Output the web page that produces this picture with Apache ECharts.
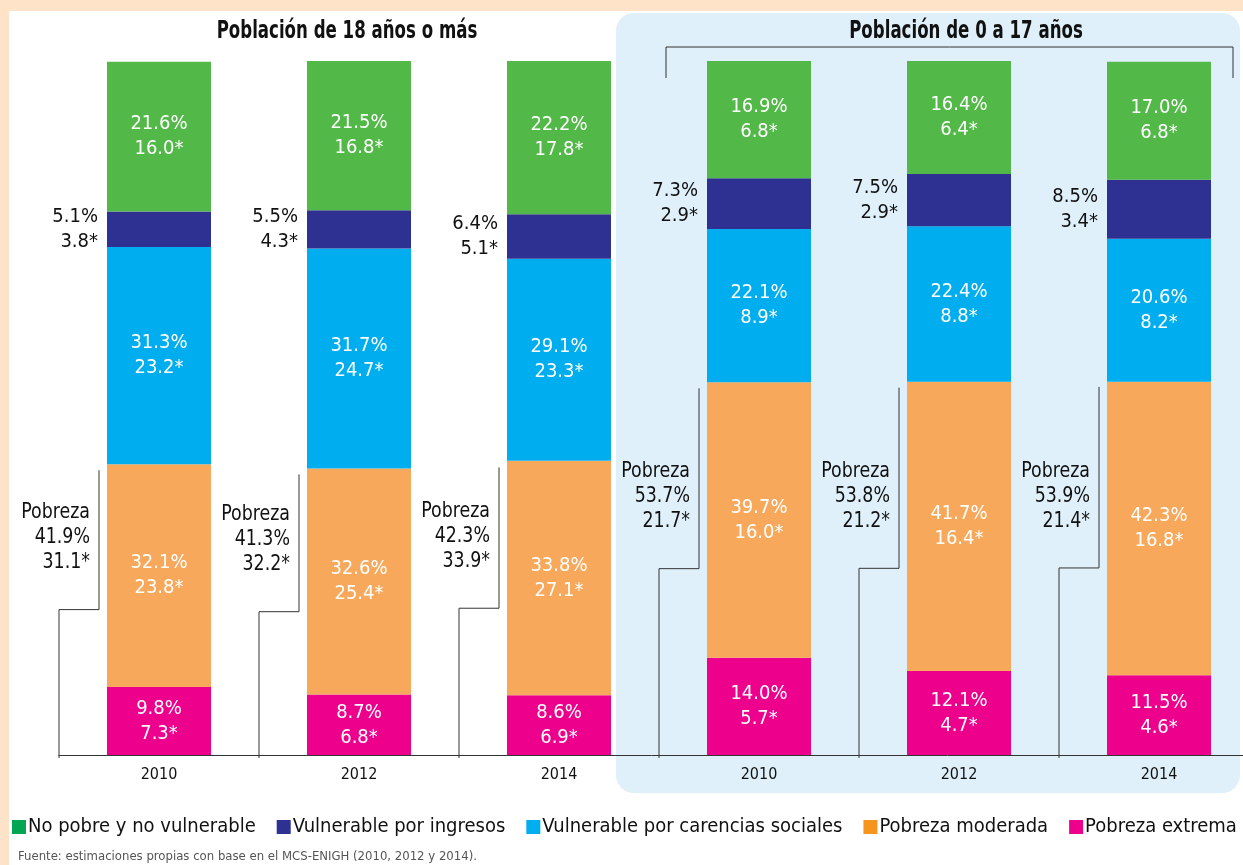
<!DOCTYPE html>
<html>
<head>
<meta charset="utf-8">
<script src="https://cdn.jsdelivr.net/npm/echarts@6/dist/echarts.min.js"></script>
<style>
  html, body { margin: 0; padding: 0; }
  #chart { width: 1243px; height: 865px; }
</style>
</head>
<body>
<div id="chart"></div>
<script>
var FONT = "'DejaVu Sans Condensed', 'Liberation Sans', sans-serif";

var years = ['2010', '2012', '2014', '2010', '2012', '2014'];

// porcentaje de poblacion
var noPobre = [21.6, 21.5, 22.2, 16.9, 16.4, 17.0];
var vulIngresos = [5.1, 5.5, 6.4, 7.3, 7.5, 8.5];
var vulCarencias = [31.3, 31.7, 29.1, 22.1, 22.4, 20.6];
var pobModerada = [32.1, 32.6, 33.8, 39.7, 41.7, 42.3];
var pobExtrema = [9.8, 8.7, 8.6, 14.0, 12.1, 11.5];
var pobreza = [41.9, 41.3, 42.3, 53.7, 53.8, 53.9];

// millones de personas (*)
var noPobreAbs = [16.0, 16.8, 17.8, 6.8, 6.4, 6.8];
var vulIngresosAbs = [3.8, 4.3, 5.1, 2.9, 2.9, 3.4];
var vulCarenciasAbs = [23.2, 24.7, 23.3, 8.9, 8.8, 8.2];
var pobModeradaAbs = [23.8, 25.4, 27.1, 16.0, 16.4, 16.8];
var pobExtremaAbs = [7.3, 6.8, 6.9, 5.7, 4.7, 4.6];
var pobrezaAbs = [31.1, 32.2, 33.9, 21.7, 21.2, 21.4];

var chart = echarts.init(document.getElementById('chart'));

function fmt(pct, abs) {
    return function (p) {
        return pct[p.dataIndex].toFixed(1) + '%\n' + abs[p.dataIndex].toFixed(1) + '*';
    };
}

function barSeries(name, color, pct, abs, outside) {
    return {
        name: name,
        type: 'bar',
        stack: 'total',
        barWidth: 104,
        data: pct,
        itemStyle: { color: color },
        label: {
            show: true,
            position: outside ? 'left' : 'inside',
            distance: 9,
            color: outside ? '#111' : '#fff',
            fontFamily: FONT,
            fontSize: 20,
            lineHeight: 25,
            align: outside ? 'right' : 'center',
            formatter: fmt(pct, abs)
        }
    };
}

var pobrezaData = pobreza.map(function (v, i) { return [i, v, pobrezaAbs[i]]; });

var option = {
    animation: false,
    backgroundColor: '#fee3c8',
    textStyle: { fontFamily: FONT },
    graphic: [
        { type: 'rect', z: -10, shape: { x: 9, y: 11, width: 1300, height: 900 }, style: { fill: '#ffffff' } },
        { type: 'rect', z: -9, shape: { x: 616, y: 13, width: 624, height: 780, r: 18 }, style: { fill: '#dff0fa' } },
        { type: 'text', x: 347, y: 32, scaleX: 0.77, style: { text: 'Población de 18 años o más', font: 'bold 24px ' + FONT, fill: '#111', align: 'center', verticalAlign: 'middle' } },
        { type: 'text', x: 966, y: 32, scaleX: 0.77, style: { text: 'Población de 0 a 17 años', font: 'bold 24px ' + FONT, fill: '#111', align: 'center', verticalAlign: 'middle' } },
        { type: 'polyline', z: 5, shape: { points: [[666, 78], [666, 47], [1233, 47], [1233, 78]] }, style: { stroke: '#333', lineWidth: 1, fill: null } },
        { type: 'text', left: 18, top: 850, style: { text: 'Fuente: estimaciones propias con base en el MCS-ENIGH (2010, 2012 y 2014).', font: '13px ' + FONT, fill: '#555' } }
    ],
    legend: {
        left: 12,
        top: 817,
        padding: 0,
        itemWidth: 14,
        itemHeight: 14,
        itemGap: 21,
        icon: 'rect',
        textStyle: { fontFamily: FONT, fontSize: 20, color: '#111', padding: [0, 0, 0, -3] },
        data: [
            { name: 'No pobre y no vulnerable', itemStyle: { color: '#00a651' } },
            { name: 'Vulnerable por ingresos', itemStyle: { color: '#2e3192' } },
            { name: 'Vulnerable por carencias sociales', itemStyle: { color: '#00aeef' } },
            { name: 'Pobreza moderada', itemStyle: { color: '#f7941d' } },
            { name: 'Pobreza extrema', itemStyle: { color: '#ec008c' } }
        ]
    },
    grid: { left: 59, top: 61, width: 1200, bottom: 110, outerBoundsMode: 'none' },
    xAxis: {
        type: 'category',
        data: years,
        axisLine: { lineStyle: { color: '#333', width: 1 } },
        axisTick: { length: 8, lineStyle: { color: '#333' } },
        axisLabel: { fontFamily: FONT, fontSize: 16, color: '#111', margin: 12 }
    },
    yAxis: { type: 'value', min: 0, max: 100, show: false },
    series: [
        barSeries('Pobreza extrema', '#ec008c', pobExtrema, pobExtremaAbs, false),
        barSeries('Pobreza moderada', '#f8a85b', pobModerada, pobModeradaAbs, false),
        barSeries('Vulnerable por carencias sociales', '#00aeef', vulCarencias, vulCarenciasAbs, false),
        barSeries('Vulnerable por ingresos', '#2e3192', vulIngresos, vulIngresosAbs, true),
        barSeries('No pobre y no vulnerable', '#52b848', noPobre, noPobreAbs, false),
        {
            type: 'custom',
            name: 'Pobreza',
            data: pobrezaData,
            z: 4,
            renderItem: function (params, api) {
                var i = api.value(0);
                var band = api.size([1, 0])[0];
                var base = api.coord([i, 0]);
                var top = api.coord([i, api.value(1)]);
                var mid = api.coord([i, api.value(1) / 2]);
                var xLow = base[0] - band * 0.5;
                var xUp = base[0] - band * 0.3;
                return {
                    type: 'group',
                    children: [
                        {
                            type: 'polyline',
                            shape: { points: [[xLow, base[1] + 3], [xLow, mid[1]], [xUp, mid[1]], [xUp, top[1] + 6]] },
                            style: { stroke: '#333', lineWidth: 1, fill: null }
                        },
                        {
                            type: 'text',
                            x: base[0] - band * 0.345,
                            y: mid[1] - 72,
                            scaleX: 0.88,
                            style: {
                                text: 'Pobreza\n' + api.value(1).toFixed(1) + '%\n' + api.value(2).toFixed(1) + '*',
                                x: 0,
                                y: 0,
                                align: 'right',
                                verticalAlign: 'middle',
                                fontFamily: FONT,
                                fontSize: 22,
                                lineHeight: 25,
                                fill: '#111'
                            }
                        }
                    ]
                };
            }
        }
    ]
};

chart.setOption(option);
</script>
</body>
</html>
